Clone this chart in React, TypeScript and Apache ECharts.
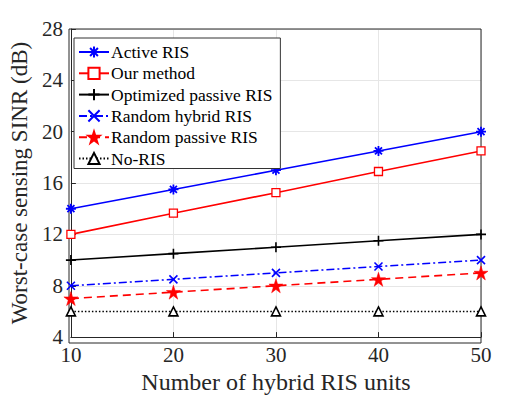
import React, { useEffect, useRef } from "react";
import * as echarts from "echarts";

const xCategories = [10, 20, 30, 40, 50];
const activeRIS = [14, 15.5, 17, 18.5, 20];
const ourMethod = [12, 13.65, 15.25, 16.9, 18.5];
const optimizedPassive = [10, 10.5, 11, 11.5, 12];
const randomHybrid = [8, 8.5, 9, 9.5, 10];
const randomPassive = [7, 7.5, 8, 8.5, 9];
const noRIS = [6, 6, 6, 6, 6];
const yTicks = [4, 8, 12, 16, 20, 24, 28];

const FONT = "Liberation Serif";

const ASTERISK = "path://M5,0L5,10M0,5L10,5M1.5,1.5L8.5,8.5M8.5,1.5L1.5,8.5";
const PLUS = "path://M5,0L5,10M0,5L10,5";
const CROSS = "path://M0,0L10,10M10,0L0,10";
const STAR =
  "path://M50,0L61.8,36.2L100,36.2L69.1,58.6L80.9,95.1L50,72.6L19.1,95.1L30.9,58.6L0,36.2L38.2,36.2Z";

export default function App() {
  const ref = useRef<HTMLDivElement>(null);
  useEffect(() => {
    const chart = echarts.init(ref.current!, null, { renderer: "svg" });
    const mk = (
      name: string,
      data: number[],
      color: string,
      symbol: string,
      symbolSize: number,
      lineType: any,
      fill: string,
      borderWidth: number
    ) => ({
      name,
      type: "line",
      data: data.map((v, i) => [xCategories[i], v]),
      symbol,
      symbolSize,
      showSymbol: true,
      lineStyle: { color, width: 1.6, type: lineType },
      itemStyle: { color: fill, borderColor: color, borderWidth },
      emphasis: { disabled: true },
      z: 3,
    });
    chart.setOption({
      animation: false,
      backgroundColor: "#fff",
      textStyle: { fontFamily: FONT },
      grid: { left: 69, right: 50, top: 29, bottom: 56, containLabel: false },
      legend: {
        orient: "vertical",
        left: 74,
        top: 38,
        padding: [5, 8, 1, 4],
        itemGap: 3.3,
        itemWidth: 30,
        itemHeight: 14,
        backgroundColor: "#fff",
        borderColor: "#333",
        borderWidth: 1,
        textStyle: {
          fontFamily: FONT,
          fontSize: 17.5,
          lineHeight: 18,
          color: "#000",
          padding: [0, 0, 0, -3],
        },
        data: [
          "Active RIS",
          "Our method",
          "Optimized passive RIS",
          "Random hybrid RIS",
          "Random passive RIS",
          "No-RIS",
        ],
      },
      xAxis: {
        type: "value",
        min: 10,
        max: 50,
        interval: 10,
        name: "Number of hybrid RIS units",
        nameLocation: "middle",
        nameGap: 32,
        nameTextStyle: { fontFamily: FONT, fontSize: 24, color: "#262626" },
        axisLine: { show: true, lineStyle: { color: "#262626", width: 1 } },
        axisTick: { show: true, inside: true, length: 5, lineStyle: { color: "#262626" } },
        axisLabel: { fontFamily: FONT, fontSize: 21, color: "#262626", margin: 7 },
        splitLine: { show: true, lineStyle: { color: "#e6e6e6", width: 1 } },
      },
      yAxis: {
        type: "value",
        min: 4,
        max: 28,
        interval: 4,
        name: "Worst-case sensing SINR (dB)",
        nameLocation: "middle",
        nameGap: 26,
        nameTextStyle: { fontFamily: FONT, fontSize: 23, color: "#262626" },
        axisLine: { show: true, lineStyle: { color: "#262626", width: 1 } },
        axisTick: { show: true, inside: true, length: 5, lineStyle: { color: "#262626" } },
        axisLabel: {
          fontFamily: FONT,
          fontSize: 21,
          color: "#262626",
          margin: 8,
          formatter: (v: number) => (yTicks.includes(v) ? String(v) : ""),
        },
        splitLine: { show: true, lineStyle: { color: "#e6e6e6", width: 1 } },
      },
      graphic: [
        {
          type: "rect",
          shape: { x: 69, y: 29, width: 412, height: 314 },
          style: { fill: "none", stroke: "#262626", lineWidth: 1 },
          silent: true,
          z: 1,
        },
      ],
      series: [
        mk("Active RIS", activeRIS, "#0000ff", ASTERISK, 10, "solid", "#0000ff", 1.8),
        mk("Our method", ourMethod, "#ff0000", "rect", 8, "solid", "#ffffff", 1.3),
        mk("Optimized passive RIS", optimizedPassive, "#000000", PLUS, 10, "solid", "#000000", 1.6),
        mk("Random hybrid RIS", randomHybrid, "#0000ff", CROSS, 8, [8, 3, 2, 3], "#0000ff", 1.6),
        mk("Random passive RIS", randomPassive, "#ff0000", STAR, 14, [8, 5], "#ff0000", 0.5),
        mk("No-RIS", noRIS, "#000000", "triangle", 9, [1.5, 2], "#ffffff", 1.6),
      ],
    });
    return () => chart.dispose();
  }, []);
  return <div ref={ref} style={{ width: 531, height: 399, position: "absolute", left: 0, top: 0 }} />;
}
